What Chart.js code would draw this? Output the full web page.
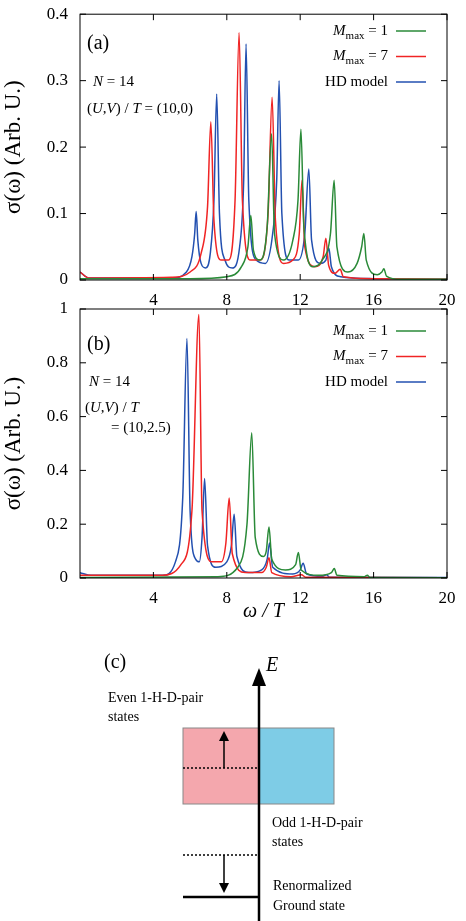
<!DOCTYPE html>
<html><head><meta charset="utf-8">
<script src="https://cdn.jsdelivr.net/npm/chart.js@4"></script>
<style>
body{margin:0;background:#fff;width:466px;height:921px;position:relative;overflow:hidden;font-family:"Liberation Serif",serif}
#ca{position:absolute;left:0;top:0}
#cb{position:absolute;left:0;top:294px}
svg{position:absolute;left:0;top:0}
</style></head><body>
<canvas id="ca" width="466" height="315"></canvas>
<canvas id="cb" width="466" height="330"></canvas>
<svg width="466" height="921" font-family="Liberation Serif, serif">
<text x="104" y="668" font-size="20">(c)</text>
<rect x="183" y="728" width="76" height="76" fill="#f4a7ad" stroke="#888" stroke-width="1"/>
<rect x="259" y="728" width="75" height="76" fill="#7ecce6" stroke="#888" stroke-width="1"/>
<line x1="259" y1="921" x2="259" y2="682" stroke="#000" stroke-width="2.5"/>
<path d="M252,686 L259,668 L266,686 Z" fill="#000"/>
<text x="266" y="671" font-size="20" font-style="italic">E</text>
<line x1="183" y1="768" x2="259" y2="768" stroke="#000" stroke-width="1.5" stroke-dasharray="2,2"/>
<line x1="224" y1="768" x2="224" y2="740" stroke="#000" stroke-width="1.5"/>
<path d="M219,741 L224,731 L229,741 Z" fill="#000"/>
<line x1="183" y1="855" x2="259" y2="855" stroke="#000" stroke-width="1.5" stroke-dasharray="2,2"/>
<line x1="224" y1="855" x2="224" y2="884" stroke="#000" stroke-width="1.5"/>
<path d="M219,883 L224,893 L229,883 Z" fill="#000"/>
<line x1="183" y1="897" x2="259" y2="897" stroke="#000" stroke-width="2.5"/>
<text x="108" y="702" font-size="14">Even 1-H-D-pair</text>
<text x="108" y="721" font-size="14">states</text>
<text x="272" y="827" font-size="14">Odd 1-H-D-pair</text>
<text x="272" y="846" font-size="14">states</text>
<text x="273" y="890" font-size="14">Renormalized</text>
<text x="273" y="910" font-size="14">Ground state</text>
</svg>
<script>
const xTicks=[4,8,12,16,20];
const yTicksA=[0,0.1,0.2,0.3,0.4];
const yTicksB=[0,0.2,0.4,0.6,0.8,1];
const legendLabels=["M|max| = 1","M|max| = 7","HD model"];
const colors=["#2a8a38","#f02424","#2350b0"];
const a_green=[[0,0.002],[6,0.002],[8,0.005],[8.8,0.02],[9.15,0.05],[9.31,0.097],[9.45,0.045],[9.8,0.03],[10.2,0.08],[10.44,0.22],[10.6,0.07],[11.1,0.03],[11.6,0.06],[11.88,0.12],[12.04,0.227],[12.2,0.08],[12.7,0.02],[13.2,0.03],[13.65,0.07],[13.85,0.15],[14.0,0.05],[14.6,0.012],[15.1,0.025],[15.35,0.05],[15.47,0.07],[15.6,0.03],[16.2,0.008],[16.45,0.012],[16.56,0.017],[16.7,0.006],[17.5,0.001],[20,0.001]];
const a_red=[[0,0.012],[0.5,0.003],[5,0.004],[6,0.012],[6.6,0.04],[6.95,0.11],[7.13,0.238],[7.3,0.09],[7.7,0.03],[8.1,0.03],[8.45,0.12],[8.67,0.372],[8.85,0.12],[9.3,0.03],[9.8,0.03],[10.25,0.1],[10.47,0.275],[10.65,0.09],[11.1,0.025],[11.6,0.03],[11.95,0.07],[12.1,0.15],[12.25,0.05],[12.8,0.02],[13.25,0.035],[13.4,0.063],[13.55,0.022],[13.9,0.01],[14.18,0.016],[14.35,0.005],[16,0.002],[20,0.001]];
const a_blue=[[0,0.012],[0.5,0.003],[5,0.003],[5.8,0.012],[6.1,0.035],[6.25,0.07],[6.33,0.103],[6.42,0.06],[6.6,0.025],[6.85,0.018],[7.1,0.04],[7.3,0.12],[7.45,0.28],[7.6,0.1],[7.9,0.03],[8.3,0.018],[8.7,0.05],[8.92,0.15],[9.05,0.355],[9.2,0.12],[9.6,0.03],[10.1,0.025],[10.5,0.07],[10.72,0.15],[10.85,0.30],[11.0,0.1],[11.4,0.03],[11.9,0.03],[12.25,0.07],[12.47,0.167],[12.62,0.06],[13.1,0.025],[13.4,0.03],[13.56,0.048],[13.7,0.02],[14.2,0.005],[16,0.002],[20,0.001]];
const b_green=[[0,0.002],[7.5,0.005],[8.6,0.04],[9.1,0.2],[9.36,0.54],[9.55,0.15],[10.0,0.08],[10.15,0.1],[10.3,0.19],[10.45,0.07],[11.2,0.03],[11.75,0.05],[11.9,0.095],[12.05,0.03],[13.0,0.01],[13.7,0.02],[13.86,0.035],[14.0,0.01],[15.5,0.005],[15.66,0.01],[15.8,0.002],[20,0.001]];
const b_red=[[0,0.01],[4.5,0.01],[5.5,0.05],[6.1,0.25],[6.48,0.98],[6.65,0.25],[7.2,0.06],[7.7,0.06],[7.95,0.13],[8.13,0.297],[8.3,0.09],[9.0,0.02],[9.9,0.02],[10.15,0.04],[10.3,0.075],[10.45,0.02],[11.5,0.005],[12.07,0.012],[12.3,0.003],[20,0.001]];
const b_blue=[[0,0.02],[0.6,0.01],[4.5,0.01],[5.2,0.06],[5.6,0.3],[5.83,0.89],[6.0,0.25],[6.3,0.07],[6.5,0.06],[6.65,0.15],[6.79,0.37],[6.95,0.12],[7.4,0.04],[8.0,0.06],[8.25,0.12],[8.4,0.237],[8.55,0.08],[9.2,0.02],[9.9,0.03],[10.2,0.07],[10.33,0.13],[10.5,0.04],[11.6,0.015],[12.0,0.03],[12.16,0.055],[12.35,0.015],[13.2,0.006],[13.43,0.012],[13.6,0.003],[20,0.002]];

const F='"Liberation Serif", serif';
function ds(arr,c){return{data:arr.map(p=>({x:p[0],y:p[1]})),borderColor:c,borderWidth:1.5,pointRadius:0,cubicInterpolationMode:'monotone',fill:false};}

function deco(texts,legendY){return{id:'deco',afterDraw(ch){
 const c=ch.ctx,a=ch.chartArea;c.save();
 c.strokeStyle='#000';c.lineWidth=1;c.strokeRect(a.left,a.top,a.right-a.left,a.bottom-a.top);
 const xs=ch.scales.x,ys=ch.scales.y;
 xs.ticks.forEach(t=>{const p=xs.getPixelForValue(t.value);c.beginPath();c.moveTo(p,a.bottom);c.lineTo(p,a.bottom-6);c.moveTo(p,a.top);c.lineTo(p,a.top+6);c.stroke();});
 ys.ticks.forEach(t=>{const p=ys.getPixelForValue(t.value);c.beginPath();c.moveTo(a.left,p);c.lineTo(a.left+6,p);c.moveTo(a.right,p);c.lineTo(a.right-6,p);c.stroke();});
 c.fillStyle='#000';c.textBaseline='middle';
 texts.forEach(t=>{c.font=(t.s||15)+'px '+F;c.textAlign='left';drawRich(c,t.t,t.x,t.y,t.s||15);});
 legendLabels.forEach((l,i)=>{const y=legendY+i*25.5;c.font='15px '+F;
  const w=richWidth(c,l,15);drawRich(c,l,388-w,y,15);
  c.strokeStyle=colors[i];c.lineWidth=1.5;c.beginPath();c.moveTo(396,y);c.lineTo(426,y);c.stroke();});
 c.restore();}};}
function parts(s){const out=[];const re=/\|([^|]*)\|/g;let last=0,m;while((m=re.exec(s))){out.push({t:s.slice(last,m.index)});out.push({t:m[1],sub:true});last=re.lastIndex;}out.push({t:s.slice(last)});
 const res=[];out.forEach(p=>{if(p.sub){res.push(p);return;}for(const ch of p.t){const it=/[UVTNM]/.test(ch);const L=res[res.length-1];if(L&&!L.sub&&L.it===it)L.t+=ch;else res.push({t:ch,it});}});return res;}
function fontFor(p,s){return (p.it?'italic ':'')+(p.sub?Math.round(s*0.75):s)+'px '+F;}
function richWidth(c,s,sz){let w=0;parts(s).forEach(p=>{c.font=fontFor(p,sz);w+=c.measureText(p.t).width;});return w;}
function drawRich(c,s,x,y,sz){parts(s).forEach(p=>{c.font=fontFor(p,sz);c.fillText(p.t,x,p.sub?y+5:y);x+=c.measureText(p.t).width;});}

function make(id,sets,yt,ymax,texts,legY,showTitle,padTop,xh){
 new Chart(document.getElementById(id),{type:'line',data:{datasets:sets},
 options:{responsive:false,animation:false,layout:{padding:{top:padTop,right:19,left:0,bottom:0}},
 plugins:{legend:{display:false},tooltip:{enabled:false}},
 scales:{x:{type:'linear',min:0,max:20,afterBuildTicks:s=>{s.ticks=xTicks.map(v=>({value:v}));},
   grid:{display:false},border:{display:false},ticks:{color:'#000',font:{family:F,size:17},padding:2},
   title:{display:showTitle,text:'ω / T',color:'#000',font:{family:F,size:20,style:'italic'},padding:0},
   afterFit:s=>{s.height=xh;}},
  y:{min:0,max:ymax,afterBuildTicks:s=>{s.ticks=yt.map(v=>({value:v}));},
   grid:{display:false},border:{display:false},ticks:{color:'#000',font:{family:F,size:17},padding:4,callback:v=>String(v)},
   title:{display:true,text:'σ(ω) (Arb. U.)',color:'#000',font:{family:F,size:23},padding:0},
   afterFit:s=>{s.width=80;}}}},
 plugins:[deco(texts,legY)]});
}
make('ca',[ds(a_green,colors[0]),ds(a_red,colors[1]),ds(a_blue,colors[2])],yTicksA,0.4,
 [{t:'(a)',x:87,y:44,s:20},{t:'N = 14',x:93,y:82},{t:'(U,V) / T = (10,0)',x:87,y:109}],31,false,14,35);
make('cb',[ds(b_green,colors[0]),ds(b_red,colors[1]),ds(b_blue,colors[2])],yTicksB,1,
 [{t:'(b)',x:87,y:51,s:20},{t:'N = 14',x:89,y:88},{t:'(U,V) / T',x:85,y:114},{t:'= (10,2.5)',x:111,y:134}],37,true,15,46);
</script>
</body></html>
